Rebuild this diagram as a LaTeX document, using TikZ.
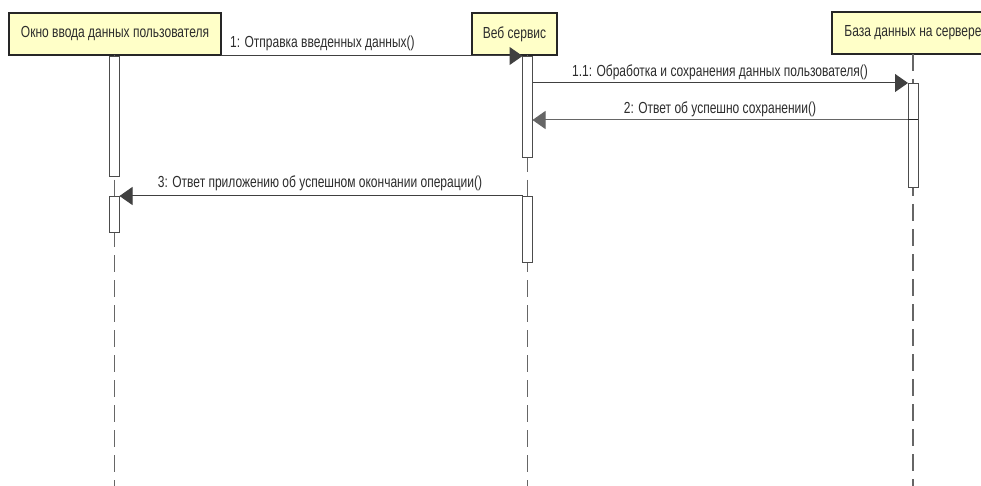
\documentclass[tikz,border=0pt]{standalone}
\usepackage{fontspec}
\setmainfont[FakeStretch=0.75]{Liberation Sans}
\usetikzlibrary{arrows.meta}
\definecolor{boxfill}{RGB}{255,255,200}
\definecolor{txt}{RGB}{45,45,45}
\tikzset{
  obj/.style={draw=black!85, line width=1.5pt, fill=boxfill, inner sep=0pt, outer sep=0pt,
    minimum height=42pt, text=txt, font=\fontsize{16}{17}\selectfont},
  act/.style={draw=black!70, line width=0.9pt, fill=white, inner sep=0pt, outer sep=0pt, minimum width=10pt},
  life/.style={draw=black!60, line width=1.1pt, dash pattern=on 17pt off 8pt},
  msg/.style={draw=black!75, line width=1pt, -{Triangle[length=13pt,width=18pt]}},
  lbl/.style={text=txt, font=\fontsize{16}{17}\selectfont, inner sep=0pt}
}
\begin{document}
\begin{tikzpicture}[x=1pt,y=-1pt]
\clip (0,0) rectangle (981,486);
\fill[white] (0,0) rectangle (981,486);
% objects
\node[obj, minimum width=212pt] (b1) at (115,34) {Окно ввода данных пользователя};
\node[obj, minimum width=85pt] (b2) at (514.5,34) {Веб сервис};
\node[obj, minimum width=162pt] (b3) at (913,33) {База данных на сервере};
% lifeline ends
\coordinate (e1) at (114.5,486);
\coordinate (e2) at (527.5,486);
\coordinate (e3) at (913,486);
\draw[life] (b1.south -| e1) -- (e1);
\draw[life] (b2.south -| e2) -- (e2);
\draw[life] (b3.south -| e3) -- (e3);
% activations
\node[act, minimum height=120pt] (a1) at (114.5,116) {};
\node[act, minimum height=36pt] (a2) at (114.5,214) {};
\node[act, minimum height=101pt] (w1) at (527.5,106.5) {};
\node[act, minimum height=66pt] (w2) at (527.5,229) {};
\node[act, minimum height=104pt] (d1) at (913,135) {};
\coordinate (r2) at (913,120);
% messages
\draw[msg] (b1.east |- w1.north) -- (w1.north west);
\node[lbl, anchor=base west] (l1) at (230,48) {1: Отправка введенных данных()};
\draw[msg] (w1.east |- d1.north) -- (d1.north west);
\node[lbl, anchor=base] (l11) at (720,77) {1.1: Обработка и сохранения данных пользователя()};
\draw[msg, draw=black!60] (d1.west |- r2) -- (w1.east |- r2);
\draw[black!85, line width=1pt] (d1.west |- r2) -- (d1.east |- r2);
\node[lbl, anchor=base] (l2) at (720,114) {2: Ответ об успешно сохранении()};
\draw[msg] (w2.north west) -- (a2.north east);
\node[lbl, anchor=base] (l3) at (320,188) {3: Ответ приложению об успешном окончании операции()};
\end{tikzpicture}
\end{document}
